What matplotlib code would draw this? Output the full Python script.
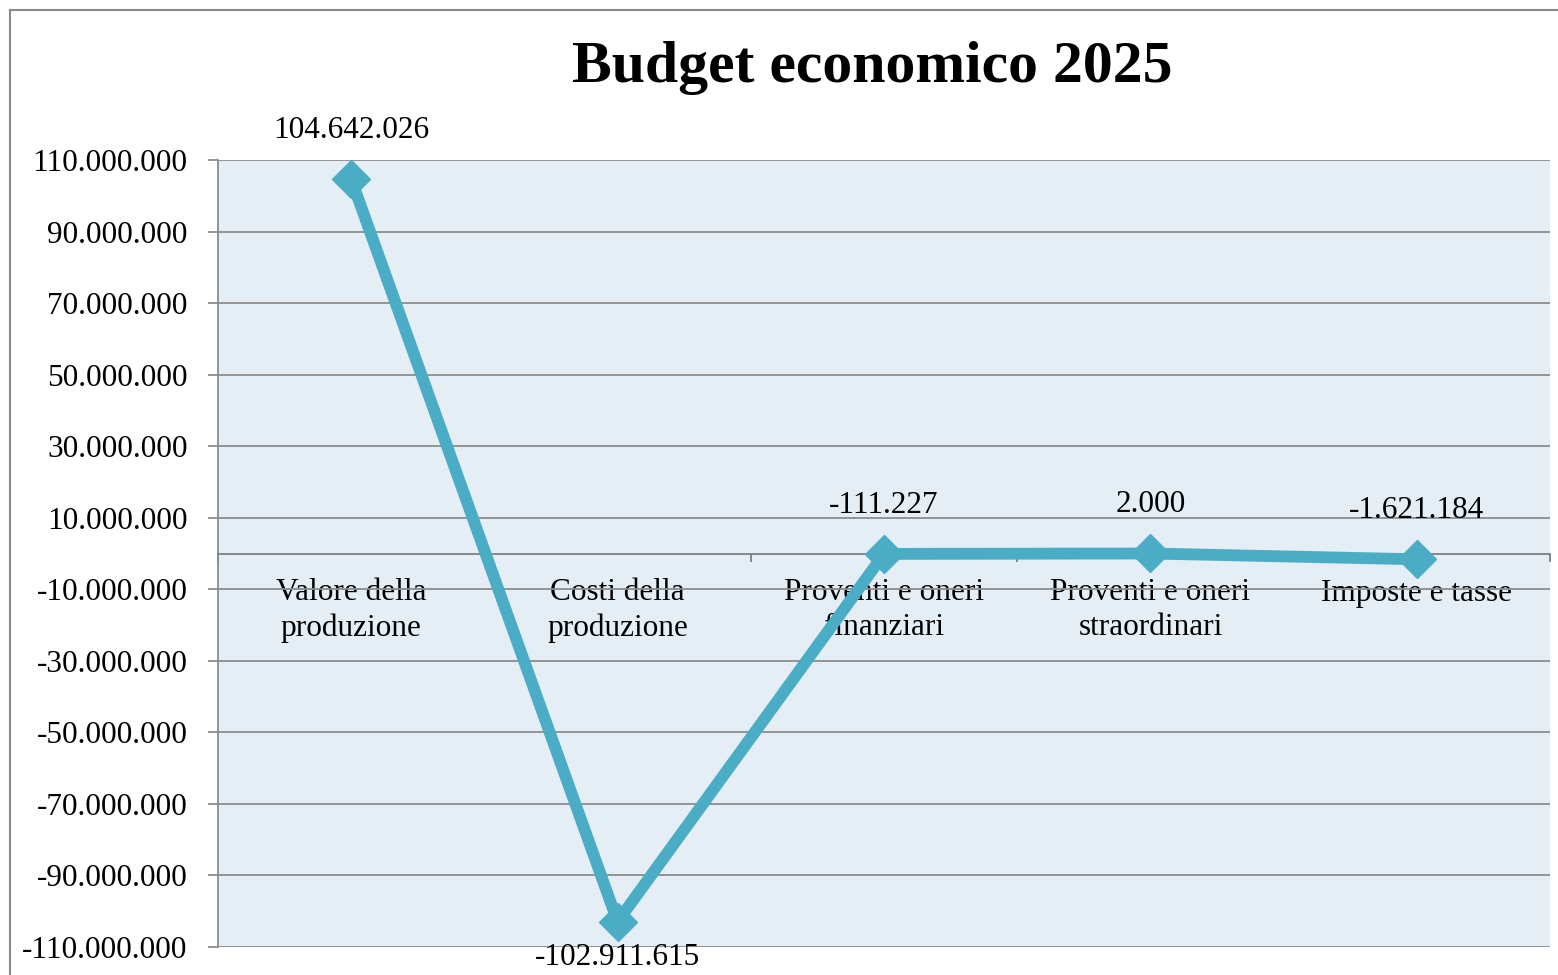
import matplotlib
matplotlib.use("Agg")
import matplotlib.pyplot as plt
from matplotlib.lines import Line2D
from matplotlib.ticker import FixedLocator, FuncFormatter
import numpy as np

plt.rcParams["font.family"] = "Liberation Serif"

categories = ["Valore della\nproduzione", "Costi della\nproduzione",
              "Proventi e oneri\nfinanziari", "Proventi e oneri\nstraordinari",
              "Imposte e tasse"]
values = [104642026, -102911615, -111227, 2000, -1621184]
yticks = np.arange(-110000000, 110000001, 20000000)

LINE = "#4BACC6"
GRID = "#8C8C8C"
FS = 22.5


def it_fmt(v, pos=None):
    # italian thousands separator
    return f"{v:,.0f}".replace(",", ".")


fig = plt.figure(figsize=(15.58, 9.75), dpi=100)
ax = fig.add_axes([218/1558, 1 - 947/975, (1550 - 218)/1558, (947 - 160)/975])
ax.set_facecolor("#E5EEF4")

x = np.arange(len(values))
ax.plot(x, values, color=LINE, lw=8.5, marker="D", markersize=19,
        solid_joinstyle="miter", zorder=5, clip_on=False)

ax.set_xlim(-0.5, len(values) - 0.5)
ax.set_ylim(yticks[0], yticks[-1])
ax.set_yticks(yticks)
ax.yaxis.set_major_formatter(FuncFormatter(it_fmt))
ax.grid(axis="y", color=GRID, lw=1.3)
ax.set_axisbelow(True)

# x axis sits on the zero line, boundaries ticked, names under it
ax.spines["bottom"].set_position(("data", 0))
ax.spines["bottom"].set_color("#7F7F7F")
ax.spines["bottom"].set_linewidth(1.3)
ax.spines["left"].set_color(GRID)
ax.spines["left"].set_linewidth(1.3)
ax.spines["top"].set_visible(False)
ax.spines["right"].set_visible(False)

ax.xaxis.set_major_locator(FixedLocator(np.arange(-0.5, len(values), 1.0)))
ax.xaxis.set_minor_locator(FixedLocator(x))
ax.set_xticklabels([], minor=False)
ax.set_xticklabels(categories, minor=True, fontsize=FS, linespacing=1.25)
ax.tick_params(axis="x", which="major", direction="out", length=6,
               color="#7F7F7F", width=1.3)
ax.tick_params(axis="x", which="minor", length=0, pad=18)
ax.tick_params(axis="y", direction="out", length=7, color=GRID, width=1.3,
               pad=15, labelsize=FS)

for xi, v in zip(x, values):
    dy = 35 if v > -50000000 else -26
    ax.annotate(it_fmt(v), (xi, v), xytext=(0, dy), textcoords="offset points",
                ha="center", va="center", fontsize=FS, zorder=6,
                annotation_clip=False)

fig.text(872/1558, 1 - 68/975, "Budget economico 2025", ha="center",
         va="center", fontsize=43, fontweight="bold")

# chart frame
fig.add_artist(Line2D([10/1558, 10/1558], [0, 1 - 10/975],
                      transform=fig.transFigure, color="#8A8A8A", lw=1.5))
fig.add_artist(Line2D([10/1558, 1], [1 - 10/975, 1 - 10/975],
                      transform=fig.transFigure, color="#8A8A8A", lw=1.5))

fig.savefig("out.png", dpi=100)
